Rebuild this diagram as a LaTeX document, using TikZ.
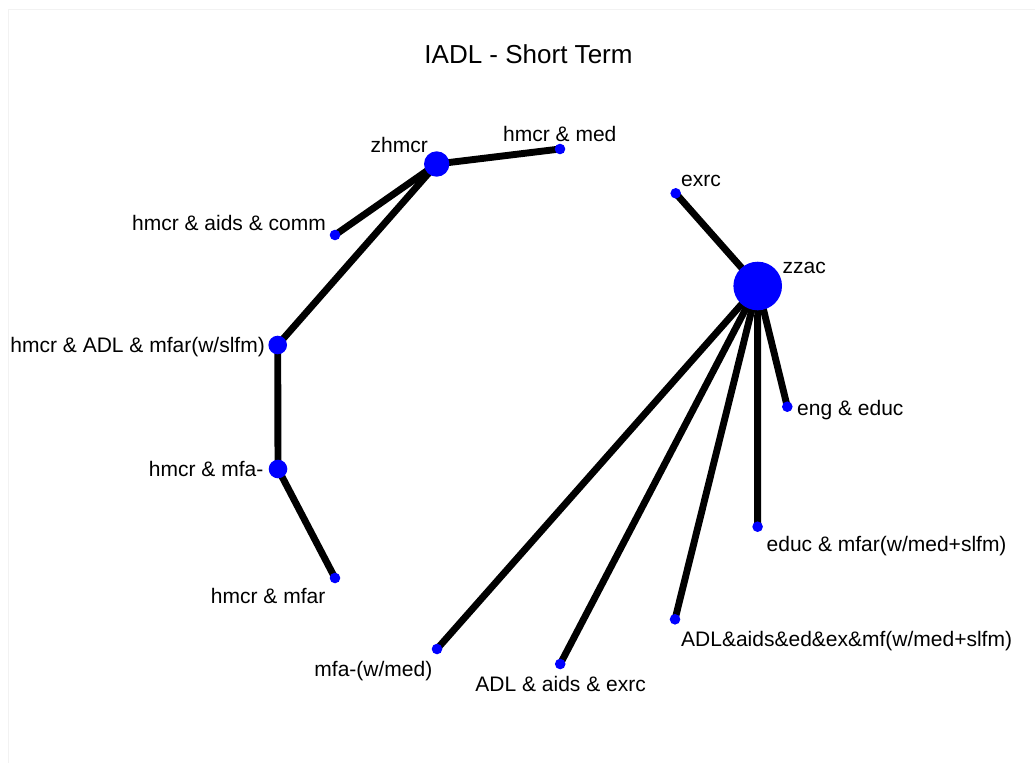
\documentclass[tikz,border=0pt]{standalone}
\usepackage{fontspec}
\setmainfont{Liberation Sans}
\pgfdeclarelayer{edges}
\pgfsetlayers{edges,main}
\begin{document}
\begin{tikzpicture}[x=1pt,y=-1pt,
  vtx/.style={circle,fill=blue,draw=none,inner sep=0pt,minimum size=#1},
  link/.style={line width=6.9pt,black},
  lbl/.style={inner sep=0pt,font=\fontsize{21}{25}\selectfont,text=black},
  ttl/.style={inner sep=0pt,font=\fontsize{26}{30}\selectfont,text=black}]
\useasboundingbox (0,0) rectangle (1035,763);
% faint frame of the plotting area
\draw[black!5,line width=1pt] (8,763) -- (8,9) -- (1035,9);

\node[ttl,anchor=base] (title) at (528.5,63) {IADL - Short Term};

% vertices
\node[vtx=25.4pt] (zhmcr) at (436.7,164) {};
\node[vtx=10.6pt] (hmed) at (560,149) {};
\node[vtx=10.6pt] (hcomm) at (335,235) {};
\node[vtx=18.6pt] (hadl) at (277.7,345) {};
\node[vtx=18.6pt] (hmfa) at (278,469) {};
\node[vtx=10.6pt] (hmfar) at (335,578) {};
\node[vtx=10.6pt] (exrc) at (675.7,193.3) {};
\node[vtx=48.6pt] (zzac) at (757.7,286) {};
\node[vtx=10.6pt] (engedu) at (787.3,406.7) {};
\node[vtx=10.6pt] (edumf) at (757.6,526.7) {};
\node[vtx=10.6pt] (adlall) at (675,619.3) {};
\node[vtx=10.6pt] (adlex) at (560.2,664) {};
\node[vtx=10.6pt] (mfamed) at (437,649) {};

% vertex labels
\node[lbl,anchor=base east] (lzhmcr) at (428,152) {zhmcr};
\node[lbl,anchor=base west] (lhmed) at (503,141) {hmcr \& med};
\node[lbl,anchor=base east] (lhcomm) at (326,230) {hmcr \& aids \& comm};
\node[lbl,anchor=base east] (lhadl) at (265,352) {hmcr \& ADL \& mfar(w/slfm)};
\node[lbl,anchor=base east] (lhmfa) at (263.5,476.5) {hmcr \& mfa-};
\node[lbl,anchor=base east] (lhmfar) at (325.5,603) {hmcr \& mfar};
\node[lbl,anchor=base west] (lexrc) at (681,186) {exrc};
\node[lbl,anchor=base west] (lzzac) at (782.5,273) {zzac};
\node[lbl,anchor=base west] (lengedu) at (797,415) {eng \& educ};
\node[lbl,anchor=base west] (ledumf) at (766.5,551.5) {educ \& mfar(w/med+slfm)};
\node[lbl,anchor=base west] (ladlall) at (681,646.5) {ADL\&aids\&ed\&ex\&mf(w/med+slfm)};
\node[lbl,anchor=base east] (ladlex) at (646,691.5) {ADL \& aids \& exrc};
\node[lbl,anchor=base east] (lmfamed) at (432.5,676.5) {mfa-(w/med)};

% edges
\begin{pgfonlayer}{edges}
\draw[link] (zhmcr.center) -- (hmed.center);
\draw[link] (zhmcr.center) -- (hcomm.center);
\draw[link] (zhmcr.center) -- (hadl.center);
\draw[link] (hadl.center) -- (hmfa.center);
\draw[link] (hmfa.center) -- (hmfar.center);
\draw[link] (zzac.center) -- (exrc.center);
\draw[link] (zzac.center) -- (engedu.center);
\draw[link] (zzac.center) -- (edumf.center);
\draw[link] (zzac.center) -- (adlall.center);
\draw[link] (zzac.center) -- (adlex.center);
\draw[link] (zzac.center) -- (mfamed.center);
\end{pgfonlayer}
\end{tikzpicture}
\end{document}
